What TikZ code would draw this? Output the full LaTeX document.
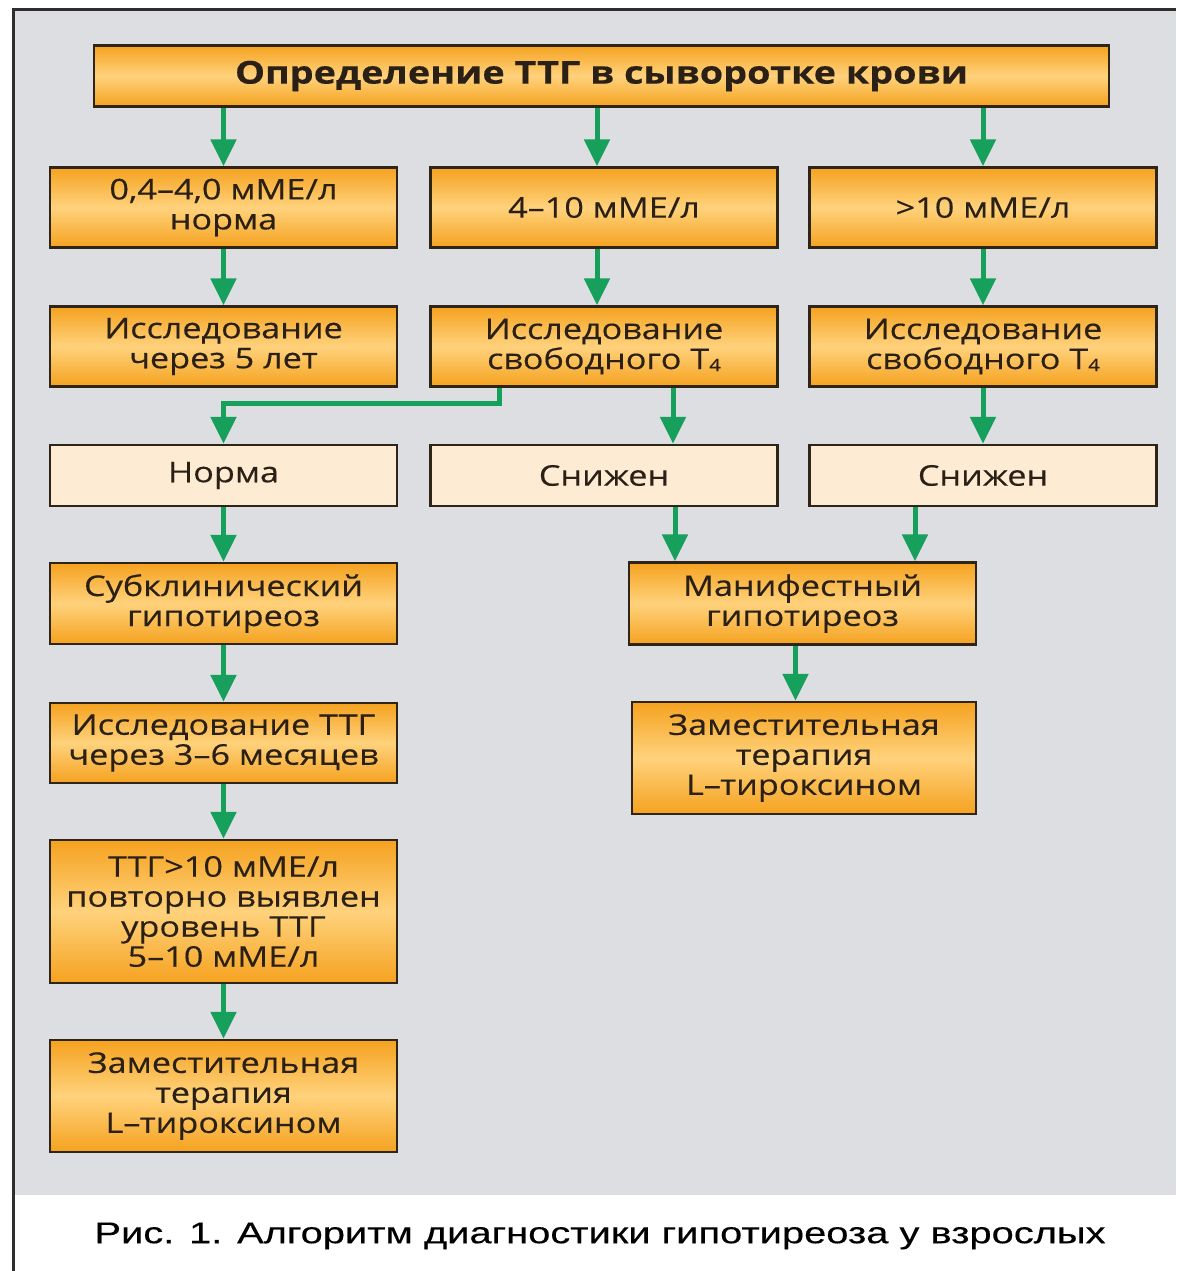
\documentclass[tikz,border=0pt]{standalone}
\usepackage{fontspec}
\usepackage{graphicx}
\setmainfont{Open Sans}[FakeStretch=1.2, FakeBold=0.35]
\newfontfamily\capfont{Liberation Sans}[FakeBold=0.3]
\usetikzlibrary{arrows.meta}
\definecolor{bggray}{HTML}{DCDEE1}
\definecolor{framecol}{HTML}{2E2E2E}
\definecolor{boxline}{HTML}{2F2418}
\definecolor{txtcol}{HTML}{2A2016}
\definecolor{orgedge}{HTML}{F5A21F}
\definecolor{orgmid}{HTML}{FFD27C}
\definecolor{lightbox}{HTML}{FDEBD3}
\definecolor{arrgreen}{HTML}{17A05C}
\tikzset{
  basebox/.style={draw=boxline, line width=2.4pt, inner sep=0pt, align=center,
    text=txtcol, font=\fontsize{28.5}{30}\selectfont, minimum width=347pt},
  obox/.style={basebox, top color=orgedge, bottom color=orgedge, middle color=orgmid},
  lbox/.style={basebox, fill=lightbox},
  arr/.style={draw=arrgreen, line width=5pt, line join=miter,
    -{Triangle[width=25pt,length=27pt]}},
}
\newcommand{\subfour}{\raisebox{-2pt}{\fontsize{17}{17}\selectfont 4}}
\begin{document}
\begin{tikzpicture}[x=1pt,y=-1pt]
\useasboundingbox (0,0) rectangle (1176,1271);
\fill[white] (0,0) rectangle (1176,1271);
\fill[bggray] (13,10) rectangle (1176,1195);
\draw[framecol, line width=3pt] (13,1271) -- (13,10) -- (1176,10);

% top
\node[obox, minimum width=1015pt, minimum height=61pt,
      font=\fontsize{31.5}{33}\selectfont\bfseries] (top) at (601.5,76) {Определение ТТГ в сыворотке крови};

% row 1
\node[obox, minimum height=80pt] (a1) at (223.5,207.5) {0,4–4,0 мМЕ/л\\норма};
\node[obox, minimum height=80pt] (b1) at (604,207.5) {4–10 мМЕ/л};
\node[obox, minimum height=80pt] (c1) at (983,207.5) {>10 мМЕ/л};
% row 2
\node[obox, minimum height=80pt] (a2) at (223.5,346.5) {Исследование\\через 5 лет};
\node[obox, minimum height=80pt] (b2) at (604,346.5) {Исследование\\свободного Т\subfour};
\node[obox, minimum height=80pt] (c2) at (983,346.5) {Исследование\\свободного Т\subfour};
% row 3
\node[lbox, minimum height=61pt] (a3) at (223.5,475.5) {Норма};
\node[lbox, minimum height=61pt] (b3) at (604,475.5) {Снижен};
\node[lbox, minimum height=61pt] (c3) at (983,475.5) {Снижен};
% left column
\node[obox, minimum height=81pt] (a4) at (223.5,603.5) {Субклинический\\гипотиреоз};
\node[obox, minimum height=80pt] (a5) at (223.5,743) {Исследование ТТГ\\через 3–6 месяцев};
\node[obox, minimum height=143pt] (a6) at (223.5,911.5) {ТТГ>10 мМЕ/л\\повторно выявлен\\уровень ТТГ\\5–10 мМЕ/л};
\node[obox, minimum height=112pt] (a7) at (223.5,1096) {Заместительная\\терапия\\L–тироксином};
% right side
\node[obox, minimum height=82pt] (m) at (802.5,603.5) {Манифестный\\гипотиреоз};
\node[obox, minimum width=344pt, minimum height=112pt] (z) at (804,758) {Заместительная\\терапия\\L–тироксином};

% caption
\node[text=black, font=\capfont\fontsize{30}{32}\selectfont] (cap) at (600,1236)
  {\resizebox{1011pt}{\height}{Рис. 1. Алгоритм диагностики гипотиреоза у взрослых}};

% arrows
\coordinate (tb) at ([xshift=-7pt]b1.north);
\coordinate (b2l) at ([xshift=-105pt]b2.south);
\coordinate (b2r) at ([xshift=69pt]b2.south);
\coordinate (b3r) at ([xshift=71pt]b3.south);
\coordinate (c3l) at ([xshift=-68pt]c3.south);
\coordinate (elb) at ([yshift=-16pt]b2l);
\coordinate (mz) at ([xshift=-7pt]m.south);

\draw[arr] (top.south -| a1.north) -- (a1.north);
\draw[arr] (top.south -| tb) -- (tb);
\draw[arr] (top.south -| c1.north) -- (c1.north);
\draw[arr] (a1.south) -- (a2.north);
\draw[arr] (b1.south -| tb) -- (b2.north -| tb);
\draw[arr] (c1.south) -- (c2.north);
\draw[arr] (b2l) -- (elb) -| (a3.north);
\draw[arr] (b2r) -- (b3.north -| b2r);
\draw[arr] (c2.south) -- (c3.north);
\draw[arr] (a3.south) -- (a4.north);
\draw[arr] (b3r) -- (m.north -| b3r);
\draw[arr] (c3l) -- (m.north -| c3l);
\draw[arr] (mz) -- (z.north -| mz);
\draw[arr] (a4.south) -- (a5.north);
\draw[arr] (a5.south) -- (a6.north);
\draw[arr] (a6.south) -- (a7.north);
\end{tikzpicture}
\end{document}
